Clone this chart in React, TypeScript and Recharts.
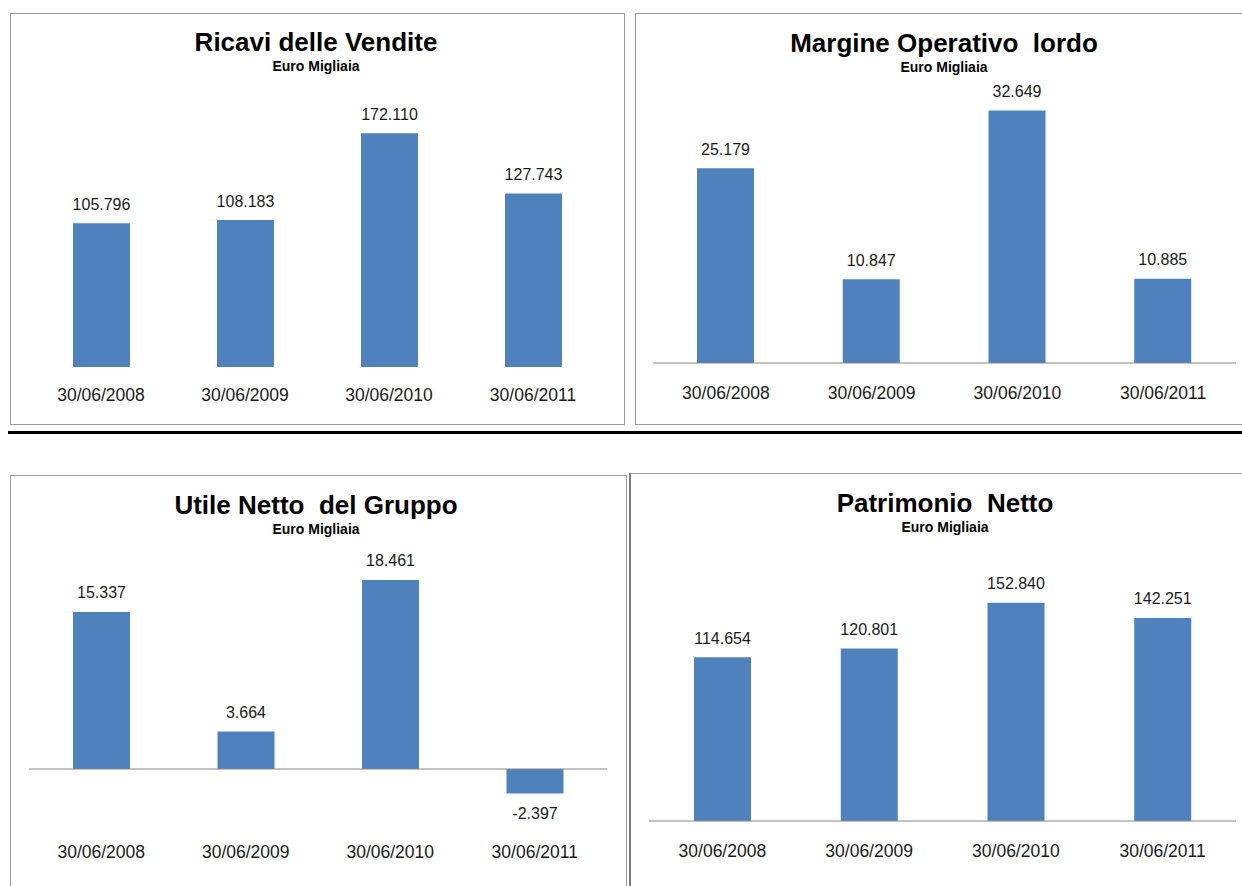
import React from 'react';
import { BarChart, Bar, XAxis, YAxis, ReferenceLine, LabelList } from 'recharts';

// ---- data ----
const categories = ['30/06/2008', '30/06/2009', '30/06/2010', '30/06/2011'];
const ricavi = [105796, 108183, 172110, 127743];
const margine = [25179, 10847, 32649, 10885];
const utile = [15337, 3664, 18461, -2397];
const patrimonio = [114654, 120801, 152840, 142251];
const titles = ['Ricavi delle Vendite', 'Margine Operativo  lordo', 'Utile Netto  del Gruppo', 'Patrimonio  Netto'];
const subtitle = 'Euro Migliaia';

const FONT = '"Liberation Sans", Arial, sans-serif';
const BAR = '#4F81BD';

function fmt(v: number): string {
  const neg = v < 0;
  const s = String(Math.abs(v));
  let out = '';
  for (let i = 0; i < s.length; i++) {
    const fromEnd = s.length - i;
    out += s[i];
    if (fromEnd > 1 && (fromEnd - 1) % 3 === 0) out += '.';
  }
  return (neg ? '-' : '') + out;
}

type Cfg = {
  values: number[];
  title: string;
  box: { left: number; top: number; width: number; height: number };
  plot: { left: number; right: number; top: number; bottom: number };
  domain: [number, number];
  baseline: boolean;
  tickDy: number;
  titleX: number;
  titleY: number;
  borderLeftWidth?: number;
};

const panels: Cfg[] = [
  {
    values: ricavi, title: titles[0],
    box: { left: 10, top: 13, width: 615, height: 412 },
    plot: { left: 29, right: 605, top: 95.4, bottom: 367 },
    domain: [0, 200000], baseline: false, tickDy: 28,
    titleX: 316, titleY: 42,
  },
  {
    values: margine, title: titles[1],
    box: { left: 635, top: 13, width: 612, height: 412 },
    plot: { left: 653, right: 1236, top: 92.4, bottom: 363 },
    domain: [0, 35000], baseline: true, tickDy: 30,
    titleX: 944, titleY: 43,
  },
  {
    values: utile, title: titles[2],
    box: { left: 10, top: 475, width: 617, height: 420 },
    plot: { left: 29, right: 607, top: 564.2, bottom: 820.2 },
    domain: [-5000, 20000], baseline: true, tickDy: 32,
    titleX: 316, titleY: 505,
  },
  {
    values: patrimonio, title: titles[3],
    box: { left: 629, top: 473, width: 618, height: 422 },
    plot: { left: 649, right: 1236, top: 564, bottom: 821 },
    domain: [0, 180000], baseline: true, tickDy: 30,
    titleX: 945, titleY: 503, borderLeftWidth: 2,
  },
];

function Panel({ cfg }: { cfg: Cfg }) {
  const { box, plot } = cfg;
  const data = categories.map((c, i) => ({ cat: c, v: cfg.values[i] }));
  const xh = 30;
  const margin = {
    top: plot.top - box.top,
    left: plot.left - box.left,
    right: box.left + box.width - plot.right,
    bottom: box.top + box.height - plot.bottom - xh,
  };
  const renderTick = (p: any) => (
    <text x={p.x} y={p.y} dy={cfg.tickDy} dominantBaseline="central" textAnchor="middle"
      fontFamily={FONT} fontSize={17.5} fill="#1a1a1a">{p.payload.value}</text>
  );
  const renderLabel = (p: any) => {
    const x = Number(p.x), y = Number(p.y), w = Number(p.width), h = Number(p.height);
    const v = Number(p.value);
    const top = Math.min(y, y + h);
    const bot = Math.max(y, y + h);
    const ty = v >= 0 ? top - 19 : bot + 20;
    return (
      <text x={x + w / 2} y={ty} dominantBaseline="central" textAnchor="middle"
        fontFamily={FONT} fontSize={16} fill="#1a1a1a">{fmt(v)}</text>
    );
  };
  return (
    <>
      <div style={{
        position: 'absolute', left: box.left, top: box.top, width: box.width, height: box.height,
        boxSizing: 'border-box', border: '1px solid #9a9a9a',
        borderLeft: `${cfg.borderLeftWidth || 1}px solid ${cfg.borderLeftWidth ? '#7a7a7a' : '#9a9a9a'}`,
      }} />
      <div style={{ position: 'absolute', left: box.left, top: box.top }}>
        <BarChart width={box.width} height={box.height} data={data} margin={margin} barSize={57}>
          <XAxis dataKey="cat" height={xh} axisLine={false} tickLine={false} tickSize={0} tickMargin={0}
            tick={renderTick} interval={0} />
          <YAxis hide domain={cfg.domain} type="number" allowDataOverflow />
          {cfg.baseline && <ReferenceLine y={0} stroke="#868686" strokeWidth={1} ifOverflow="extendDomain" />}
          <Bar dataKey="v" fill={BAR} isAnimationActive={false}>
            <LabelList dataKey="v" content={renderLabel} />
          </Bar>
        </BarChart>
      </div>
      <div style={{
        position: 'absolute', left: cfg.titleX - 250, top: cfg.titleY - 16, width: 500, height: 32,
        lineHeight: '32px', textAlign: 'center', fontFamily: FONT, fontWeight: 'bold', fontSize: 26,
        color: '#000', whiteSpace: 'pre',
      }}>{cfg.title}</div>
      <div style={{
        position: 'absolute', left: cfg.titleX - 150, top: cfg.titleY + 24 - 9, width: 300, height: 18,
        lineHeight: '18px', textAlign: 'center', fontFamily: FONT, fontWeight: 'bold', fontSize: 14,
        color: '#000',
      }}>{subtitle}</div>
    </>
  );
}

export default function App() {
  return (
    <div style={{
      position: 'absolute', left: 0, top: 0, width: 1242, height: 886, overflow: 'hidden',
      background: '#fff',
    }}>
      {panels.map((p, i) => <Panel key={i} cfg={p} />)}
      <div style={{ position: 'absolute', left: 8, top: 431, width: 1240, height: 3, background: '#000' }} />
    </div>
  );
}
